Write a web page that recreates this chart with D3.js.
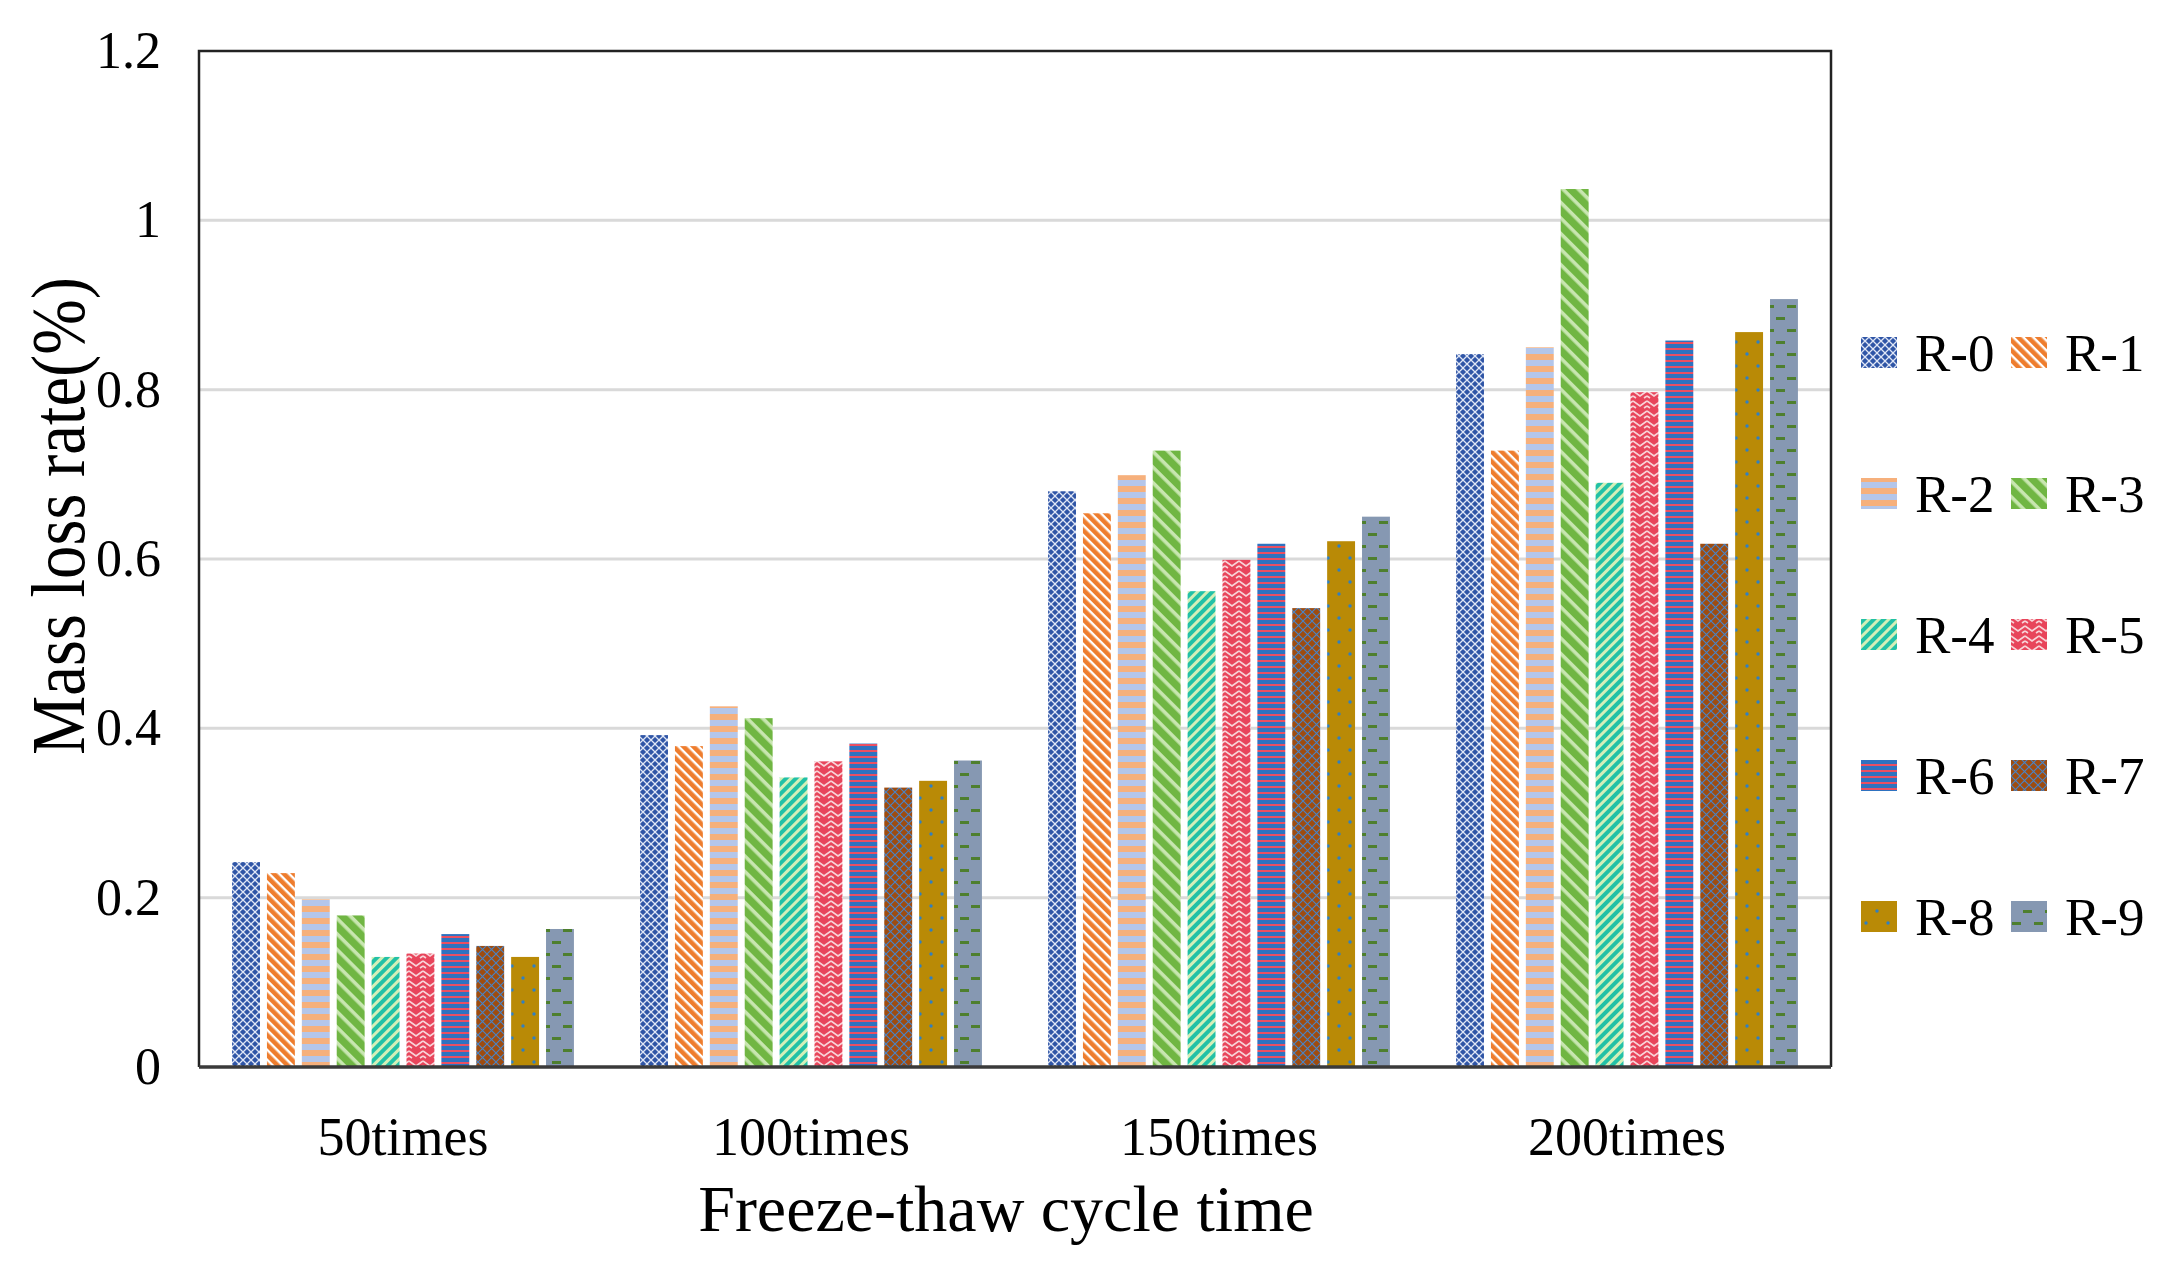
<!doctype html>
<html>
<head>
<meta charset="UTF-8">
<title>Mass loss rate</title>
<script src="https://d3js.org/d3.v7.min.js"></script>
<style>
    body{margin:0;background:#fff;}
    text{font-family:"Liberation Serif","Times New Roman",serif;fill:#000;}
</style>
</head>
<body>
<svg id="chart" width="2170" height="1270"></svg>
<script>
// data
var categories = ["50times", "100times", "150times", "200times"];
var seriesNames = ["R-0", "R-1", "R-2", "R-3", "R-4", "R-5", "R-6", "R-7", "R-8", "R-9"];
var r0 = [0.242, 0.392, 0.680, 0.842];
var r1 = [0.229, 0.379, 0.654, 0.728];
var r2 = [0.198, 0.426, 0.699, 0.850];
var r3 = [0.179, 0.412, 0.728, 1.037];
var r4 = [0.130, 0.342, 0.562, 0.690];
var r5 = [0.134, 0.361, 0.599, 0.797];
var r6 = [0.157, 0.382, 0.618, 0.858];
var r7 = [0.143, 0.330, 0.542, 0.618];
var r8 = [0.130, 0.338, 0.621, 0.868];
var r9 = [0.163, 0.362, 0.650, 0.907];
var yTicks = [0, 0.2, 0.4, 0.6, 0.8, 1, 1.2];
var yTickLabels = ["0", "0.2", "0.4", "0.6", "0.8", "1", "1.2"];

var seriesValues = [r0, r1, r2, r3, r4, r5, r6, r7, r8, r9];

// plot box (window.top is read-only, so no "top" here)
var pLeft = 199, pRight = 1831, pTop = 51, pBottom = 1067;
var svg = d3.select("#chart");
var defs = svg.append("defs");

// ---- patterns ----
function pat(id, w, h, bg, rot){
    var p = defs.append("pattern")
        .attr("id", id)
        .attr("patternUnits", "userSpaceOnUse")
        .attr("width", w).attr("height", h);
    if(rot) p.attr("patternTransform", "rotate(" + rot + ")");
    p.append("rect").attr("width", w).attr("height", h).attr("fill", bg);
    return p;
}
// R-0 blue with white lattice
var p0 = pat("p0", 8, 8, "#2f55a6");
p0.append("path").attr("d", "M0,0 L8,8 M8,0 L0,8").attr("stroke", "#dfe6f6").attr("stroke-width", 1.3);
p0.append("rect").attr("x", 3).attr("y", 0).attr("width", 2).attr("height", 1.5).attr("fill", "#2f55a6");
p0.append("rect").attr("x", 3).attr("y", 6.5).attr("width", 2).attr("height", 1.5).attr("fill", "#2f55a6");
// R-1 orange with white "\" stripes
var p1 = pat("p1", 7, 7, "#ee7d2e", 45);
p1.append("rect").attr("width", 7).attr("height", 2.4).attr("fill", "#ffffff");
// R-2 light blue / light orange horizontal bands
var p2 = pat("p2", 12, 12, "#b4c6ea");
p2.append("rect").attr("y", 6).attr("width", 12).attr("height", 6).attr("fill", "#f6b07c");
// R-3 green with wide light stripes
var p3 = pat("p3", 11, 11, "#70b643", 45);
p3.append("rect").attr("width", 11).attr("height", 3.6).attr("fill", "#c8e6b0");
// R-4 teal with light stripes "/"
var p4 = pat("p4", 7, 7, "#22c1a6", -45);
p4.append("rect").attr("width", 7).attr("height", 3).attr("fill", "#d4efb8");
// R-5 red with white chevrons (herringbone)
var p5 = pat("p5", 14, 10, "#e8455b");
p5.append("path").attr("d", "M0,1 L7,6 L14,1 M0,6 L3,8 M14,6 L11,8").attr("fill", "none")
    .attr("stroke", "#f8d4d8").attr("stroke-width", 1.6);
// R-6 blue with red thin lines
var p6 = pat("p6", 6, 6, "#2e72c0");
p6.append("rect").attr("y", 0).attr("width", 6).attr("height", 2).attr("fill", "#ea4f62");
// R-7 brown with blue lattice
var p7 = pat("p7", 9, 9, "#9e4c10");
p7.append("path").attr("d", "M0,0 L9,9 M9,0 L0,9").attr("stroke", "#4784c8").attr("stroke-width", 1.1);
// R-8 gold with blue dots
var p8 = pat("p8", 22, 24, "#b98a06");
p8.append("circle").attr("cx", 5).attr("cy", 6).attr("r", 1.7).attr("fill", "#2f7fc2");
p8.append("circle").attr("cx", 16).attr("cy", 18).attr("r", 1.7).attr("fill", "#2f7fc2");
// R-9 grey-blue with green dashes
var p9 = pat("p9", 22, 24, "#8698b2");
p9.append("rect").attr("x", 1).attr("y", 5).attr("width", 9).attr("height", 3).attr("fill", "#4e7f2e");
p9.append("rect").attr("x", 12).attr("y", 17).attr("width", 9).attr("height", 3).attr("fill", "#4e7f2e");

var fills = seriesNames.map(function(d, i){ return "url(#p" + i + ")"; });

// ---- scales ----
var x0 = d3.scaleBand().domain(categories).range([pLeft, pRight]).padding(0);
var groupW = x0.bandwidth() * 0.855;
var x1 = d3.scaleBand().domain(seriesNames)
    .range([(x0.bandwidth() - groupW) / 2, (x0.bandwidth() + groupW) / 2])
    .paddingInner(0.2).paddingOuter(0.1);
var y = d3.scaleLinear().domain([0, 1.2]).range([pBottom, pTop]);

// gridlines
svg.append("g").selectAll("line")
    .data(yTicks.filter(function(d){ return d > 0 && d < 1.2; }))
    .enter().append("line")
    .attr("x1", pLeft).attr("x2", pRight)
    .attr("y1", function(d){ return y(d); })
    .attr("y2", function(d){ return y(d); })
    .attr("stroke", "#d9d9d9").attr("stroke-width", 3);

// bars
var groups = svg.append("g").selectAll("g")
    .data(categories)
    .enter().append("g")
    .attr("transform", function(d){ return "translate(" + x0(d) + ",0)"; });

groups.selectAll("rect")
    .data(function(c, ci){
        return seriesNames.map(function(s, si){ return {s: s, i: si, v: seriesValues[si][ci]}; });
    })
    .enter().append("rect")
    .attr("x", function(d){ return x1(d.s); })
    .attr("width", x1.bandwidth())
    .attr("y", function(d){ return y(d.v); })
    .attr("height", function(d){ return y(0) - y(d.v); })
    .attr("fill", function(d){ return fills[d.i]; });

// frame
svg.append("path")
    .attr("d", "M" + pLeft + "," + pBottom + "V" + pTop + "H" + pRight + "V" + pBottom)
    .attr("fill", "none").attr("stroke", "#222").attr("stroke-width", 2.5);
svg.append("line")
    .attr("x1", pLeft).attr("x2", pRight).attr("y1", pBottom).attr("y2", pBottom)
    .attr("stroke", "#3a3a3a").attr("stroke-width", 3.5);

// y axis labels
var yAxis = d3.axisLeft(y).tickValues(yTicks)
    .tickFormat(function(d, i){ return yTickLabels[i]; })
    .tickSize(0).tickPadding(38);
var gy = svg.append("g").attr("transform", "translate(" + pLeft + ",0)").call(yAxis);
gy.select(".domain").remove();
gy.selectAll("text").style("font-family", "'Liberation Serif','Times New Roman',serif")
    .style("font-size", "52px").attr("fill", "#000");

// x axis labels
var xAxis = d3.axisBottom(x0).tickSize(0).tickPadding(0);
var gx = svg.append("g").attr("transform", "translate(0," + pBottom + ")").call(xAxis);
gx.select(".domain").remove();
gx.selectAll("text").attr("dy", null).attr("y", 88)
    .style("font-family", "'Liberation Serif','Times New Roman',serif")
    .style("font-size", "54px").attr("fill", "#000");

// titles
svg.append("text")
    .attr("x", (pLeft + pRight) / 2 - 9).attr("y", 1231)
    .attr("text-anchor", "middle")
    .style("font-size", "66px")
    .text("Freeze-thaw cycle time");

svg.append("text")
    .attr("transform", "translate(84,516) rotate(-90)")
    .attr("text-anchor", "middle")
    .attr("textLength", 478).attr("lengthAdjust", "spacingAndGlyphs")
    .style("font-size", "76px")
    .text("Mass loss rate(%)");

// legend, 2 columns x 5 rows
var legend = svg.append("g").selectAll("g")
    .data(seriesNames)
    .enter().append("g")
    .attr("transform", function(d, i){
        var col = i % 2, row = Math.floor(i / 2);
        return "translate(" + (1861 + col * 150) + "," + (353 + row * 141) + ")";
    });
legend.append("rect")
    .attr("x", 0).attr("y", -16).attr("width", 36).attr("height", 31)
    .attr("fill", function(d, i){ return fills[i]; });
legend.append("text")
    .attr("x", 54).attr("y", 18)
    .style("font-size", "53px")
    .text(function(d){ return d; });
</script>
</body>
</html>
